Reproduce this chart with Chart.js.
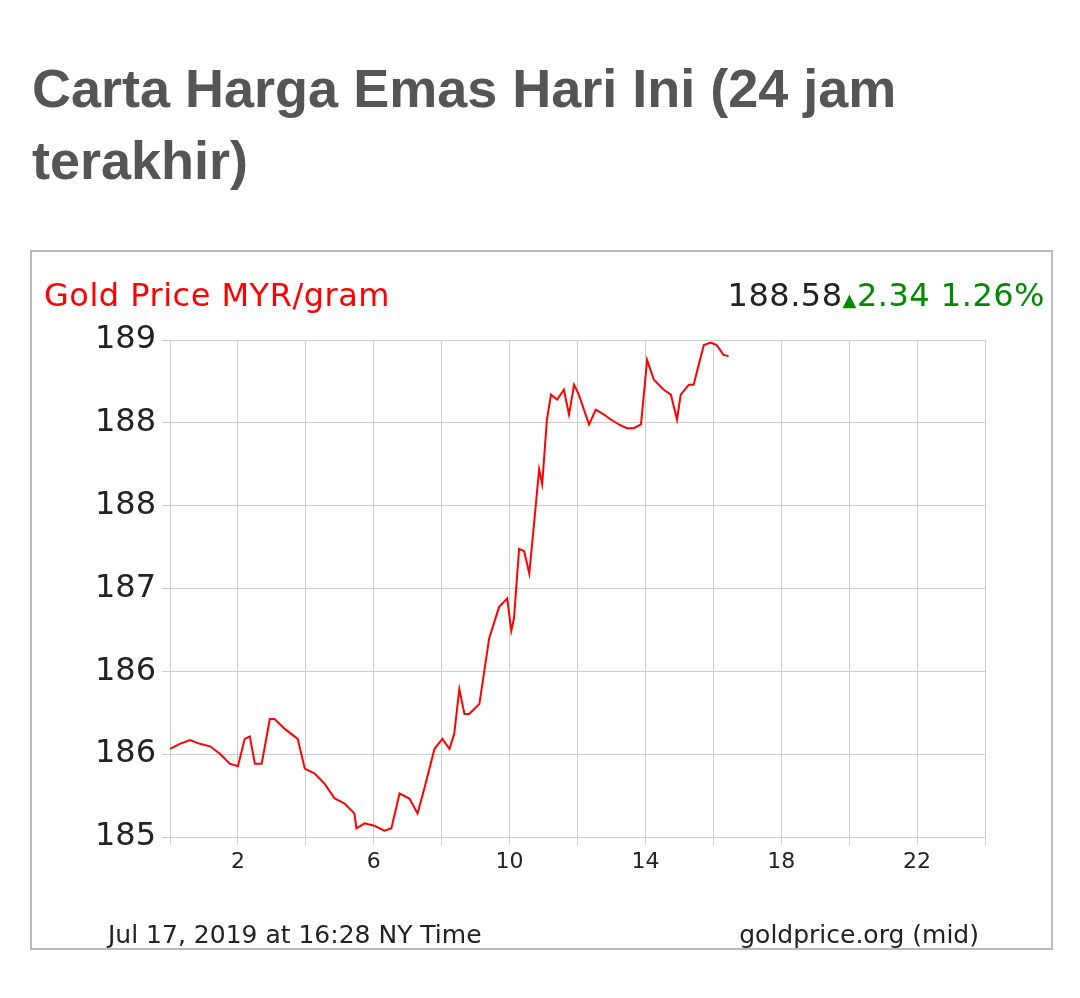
<!DOCTYPE html>
<html><head><meta charset="utf-8">
<script src="https://cdn.jsdelivr.net/npm/chart.js@4/dist/chart.umd.min.js"></script>
<style>
body{margin:0;background:#fff;width:1080px;height:998px;position:relative;overflow:hidden}
h1{position:absolute;left:32px;top:52px;margin:0;font:bold 54px "Liberation Sans",Arial,sans-serif;color:#555;line-height:72px;width:980px}
#box{position:absolute;left:30px;top:250px;width:1023px;height:700px;border:2px solid #bbb;box-sizing:border-box}
.t{position:absolute;font-family:"DejaVu Sans",Verdana,sans-serif;white-space:nowrap}
canvas{position:absolute;left:0;top:0}
</style></head><body>
<h1>Carta Harga Emas Hari Ini (24 jam terakhir)</h1>
<div id="box">
<canvas id="c" width="1019" height="696"></canvas>
<div class="t" style="left:12px;top:24px;font-size:32px;color:#f00;letter-spacing:0.5px">Gold Price MYR/gram</div>
<div class="t" style="right:6px;top:24px;font-size:32px;color:#222;letter-spacing:0.5px">188.58<span style="color:#080;font-size:18px">▲</span><span style="color:#080">2.34 1.26%</span></div>
<div class="t" style="left:76px;top:668px;font-size:25px;color:#222">Jul 17, 2019 at 16:28 NY Time</div>
<div class="t" style="right:72px;top:668px;font-size:25px;color:#222">goldprice.org (mid)</div>
</div>
<script>
const hours=[0,0.29,0.59,0.88,1.18,1.47,1.76,2.0,2.2,2.35,2.5,2.7,2.94,3.08,3.38,3.76,3.97,4.26,4.55,4.85,5.14,5.43,5.49,5.73,6.02,6.32,6.52,6.76,7.05,7.29,7.49,7.79,8.02,8.23,8.37,8.52,8.67,8.81,8.96,9.11,9.4,9.69,9.93,10.05,10.13,10.28,10.43,10.58,10.72,10.87,10.96,11.1,11.22,11.4,11.6,11.75,11.9,12.04,12.19,12.34,12.54,12.78,12.98,13.22,13.45,13.66,13.87,14.05,14.25,14.54,14.75,14.93,15.04,15.28,15.42,15.57,15.72,15.92,16.1,16.3,16.45];
const prices=[185.71,185.75,185.78,185.75,185.73,185.67,185.59,185.57,185.79,185.81,185.59,185.59,185.95,185.95,185.87,185.79,185.55,185.51,185.43,185.31,185.27,185.19,185.07,185.11,185.09,185.05,185.07,185.35,185.31,185.19,185.39,185.71,185.79,185.71,185.83,186.19,185.99,185.99,186.03,186.07,186.6,186.85,186.92,186.66,186.76,187.32,187.3,187.12,187.52,187.96,187.84,188.36,188.56,188.52,188.6,188.4,188.64,188.56,188.44,188.32,188.44,188.4,188.36,188.32,188.29,188.29,188.32,188.84,188.68,188.6,188.56,188.36,188.56,188.64,188.64,188.8,188.96,188.98,188.96,188.88,188.87];
const yTicks=[185,185.6667,186.3333,187,187.6667,188.3333,189];
const xLabels=[2,6,10,14,18,22];
new Chart(document.getElementById('c'),{type:'line',
data:{datasets:[{data:hours.map((h,i)=>({x:h,y:prices[i]})),borderColor:'#f00',borderWidth:2,pointRadius:0,tension:0}]},
options:{responsive:false,animation:false,plugins:{legend:{display:false},tooltip:{enabled:false}},
layout:{padding:{top:88,right:66,left:0,bottom:0}},
scales:{
x:{type:'linear',min:0,max:24,afterBuildTicks:s=>{s.ticks=[];for(let i=0;i<=24;i+=2)s.ticks.push({value:i});},
afterFit:s=>{s.height=111;},
grid:{color:'#ccc',tickLength:8,drawTicks:true},border:{color:'#ccc'},
ticks:{maxRotation:0,autoSkip:false,color:'#222',font:{family:'DejaVu Sans',size:22},padding:4,callback:v=>xLabels.includes(v)?String(v):''}},
y:{min:185,max:189,afterBuildTicks:s=>{s.ticks=yTicks.map(v=>({value:v}));},
afterFit:s=>{s.width=138;},
grid:{color:'#ccc',tickLength:8},border:{color:'#ccc'},
ticks:{autoSkip:false,color:'#222',font:{family:'DejaVu Sans',size:32},padding:6,callback:v=>String(Math.round(v))}}
}}});
</script>
</body></html>
